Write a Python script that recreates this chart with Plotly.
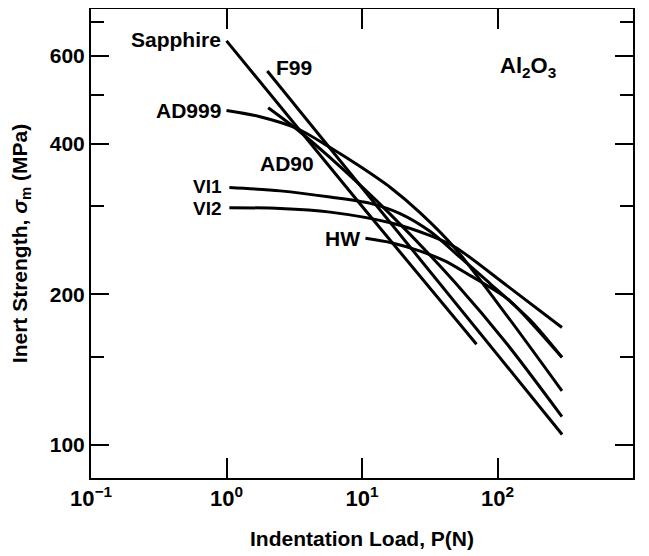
import math
import plotly.graph_objects as go

# ---- data (P in N, strength in MPa) ----
sapphire_P = [1.0, 10.0, 70.0]
sapphire_S = [642, 300, 159]

f99_P = [2.0, 10.0, 100.0, 300.0]
f99_S = [559, 327, 152, 105]

ad999_P = [1.0, 1.77, 3.32, 5.82, 9.7, 16.2, 26.9, 48.8, 118, 299]
ad999_S = [466, 453, 429, 393, 360, 327, 291, 247, 181, 128.3]

ad90_P = [2.03, 3.32, 5.82, 16.2, 48.8, 118, 299]
ad90_S = [472, 427, 375, 289, 211, 159, 114]

vi1_P = [1.05, 2.49, 5.82, 11.5, 19.1, 31.9, 53.1, 88.5, 175, 299]
vi1_S = [327, 322, 313, 304, 290, 267, 237, 210, 177.5, 149.7]

vi2_P = [1.05, 2.49, 5.82, 16.2, 31.9, 48.8, 118, 299]
vi2_S = [298, 297, 292, 278, 262, 248.5, 208, 171.7]

hw_P = [10.6, 16.2, 26.9, 41.2, 63, 88.5, 124, 299]
hw_S = [259, 254, 244, 233, 218, 206.5, 194, 149.7]

x_tickvals = [0.1, 1, 10, 100, 1000]
x_ticktext = ["10<sup>−1</sup>", "10<sup>0</sup>", "10<sup>1</sup>", "10<sup>2</sup>", "10<sup>3</sup>"]
y_tickvals = [100, 200, 400, 600]
y_minorvals = [150, 300, 500, 700]

FONT = "Liberation Sans, Arial, Helvetica, sans-serif"

fig = go.Figure()

curves = [
    (sapphire_P, sapphire_S, "linear"),
    (f99_P, f99_S, "linear"),
    (ad999_P, ad999_S, "spline"),
    (ad90_P, ad90_S, "spline"),
    (vi1_P, vi1_S, "spline"),
    (vi2_P, vi2_S, "spline"),
    (hw_P, hw_S, "spline"),
]
for px, sy, shape in curves:
    fig.add_trace(go.Scatter(
        x=px, y=sy, mode="lines",
        line=dict(color="black", width=3, shape=shape, smoothing=0.8),
        showlegend=False, hoverinfo="skip",
    ))

def lab(text, P, S, xanchor, xshift=0, yshift=0, size=21):
    fig.add_annotation(
        x=math.log10(P), y=math.log10(S), xref="x", yref="y",
        text=text, showarrow=False, xanchor=xanchor, yanchor="middle",
        xshift=xshift, yshift=yshift, borderpad=0,
        font=dict(family=FONT, size=size, color="black", weight="bold"),
    )

lab("Sapphire", sapphire_P[0], sapphire_S[0], "right", xshift=-5, yshift=1)
lab("F99", f99_P[0], f99_S[0], "left", xshift=8, yshift=3)
lab("AD999", ad999_P[0], ad999_S[0], "right", xshift=-5)
lab("AD90", ad90_P[0], ad90_S[0], "left", xshift=-9, yshift=-56)
lab("VI1", vi1_P[0], vi1_S[0], "right", xshift=-6, yshift=1, size=19)
lab("VI2", vi2_P[0], vi2_S[0], "right", xshift=-6, yshift=-1, size=19)
lab("HW", hw_P[0], hw_S[0], "right", xshift=-4)

fig.add_annotation(
    x=0.751, y=0.877, xref="paper", yref="paper",
    text="Al<sub>2</sub>O<sub>3</sub>", showarrow=False,
    xanchor="left", yanchor="middle",
    font=dict(family=FONT, size=22, color="black", weight="bold"),
)

fig.update_xaxes(
    type="log", range=[-1, 3],
    tickmode="array", tickvals=x_tickvals, ticktext=x_ticktext,
    ticks="inside", ticklen=20, tickwidth=1.5, tickcolor="black",
    showline=True, linewidth=2, linecolor="black", mirror="ticks",
    showgrid=False, zeroline=False,
    tickfont=dict(family=FONT, size=22, color="black", weight="bold"),
    title=dict(text="Indentation Load, P(N)", standoff=21,
               font=dict(family=FONT, size=21, color="black", weight="bold")),
)
fig.update_yaxes(
    type="log", range=[1.9342, 2.8712],
    tickmode="array", tickvals=y_tickvals, ticktext=[str(v) for v in y_tickvals],
    ticks="inside", ticklen=18, tickwidth=1.5, tickcolor="black",
    minor=dict(tickmode="array", tickvals=y_minorvals, ticks="inside",
               ticklen=13, tickwidth=1.5, tickcolor="black", showgrid=False),
    showline=True, linewidth=2, linecolor="black", mirror="ticks",
    showgrid=False, zeroline=False,
    tickfont=dict(family=FONT, size=21, color="black", weight="bold"),
    title=dict(text="Inert Strength, <i>σ</i><sub>m</sub> (MPa)", standoff=17,
               font=dict(family=FONT, size=21, color="black", weight="bold")),
)

# the page body has an 8px margin, so the figure is sized to fit the 649x556 window
fig.update_layout(
    width=641, height=548,
    margin=dict(l=83, r=16, t=1, b=78, autoexpand=False),
    paper_bgcolor="white", plot_bgcolor="white",
    showlegend=False,
)

fig.write_html("out.html")
